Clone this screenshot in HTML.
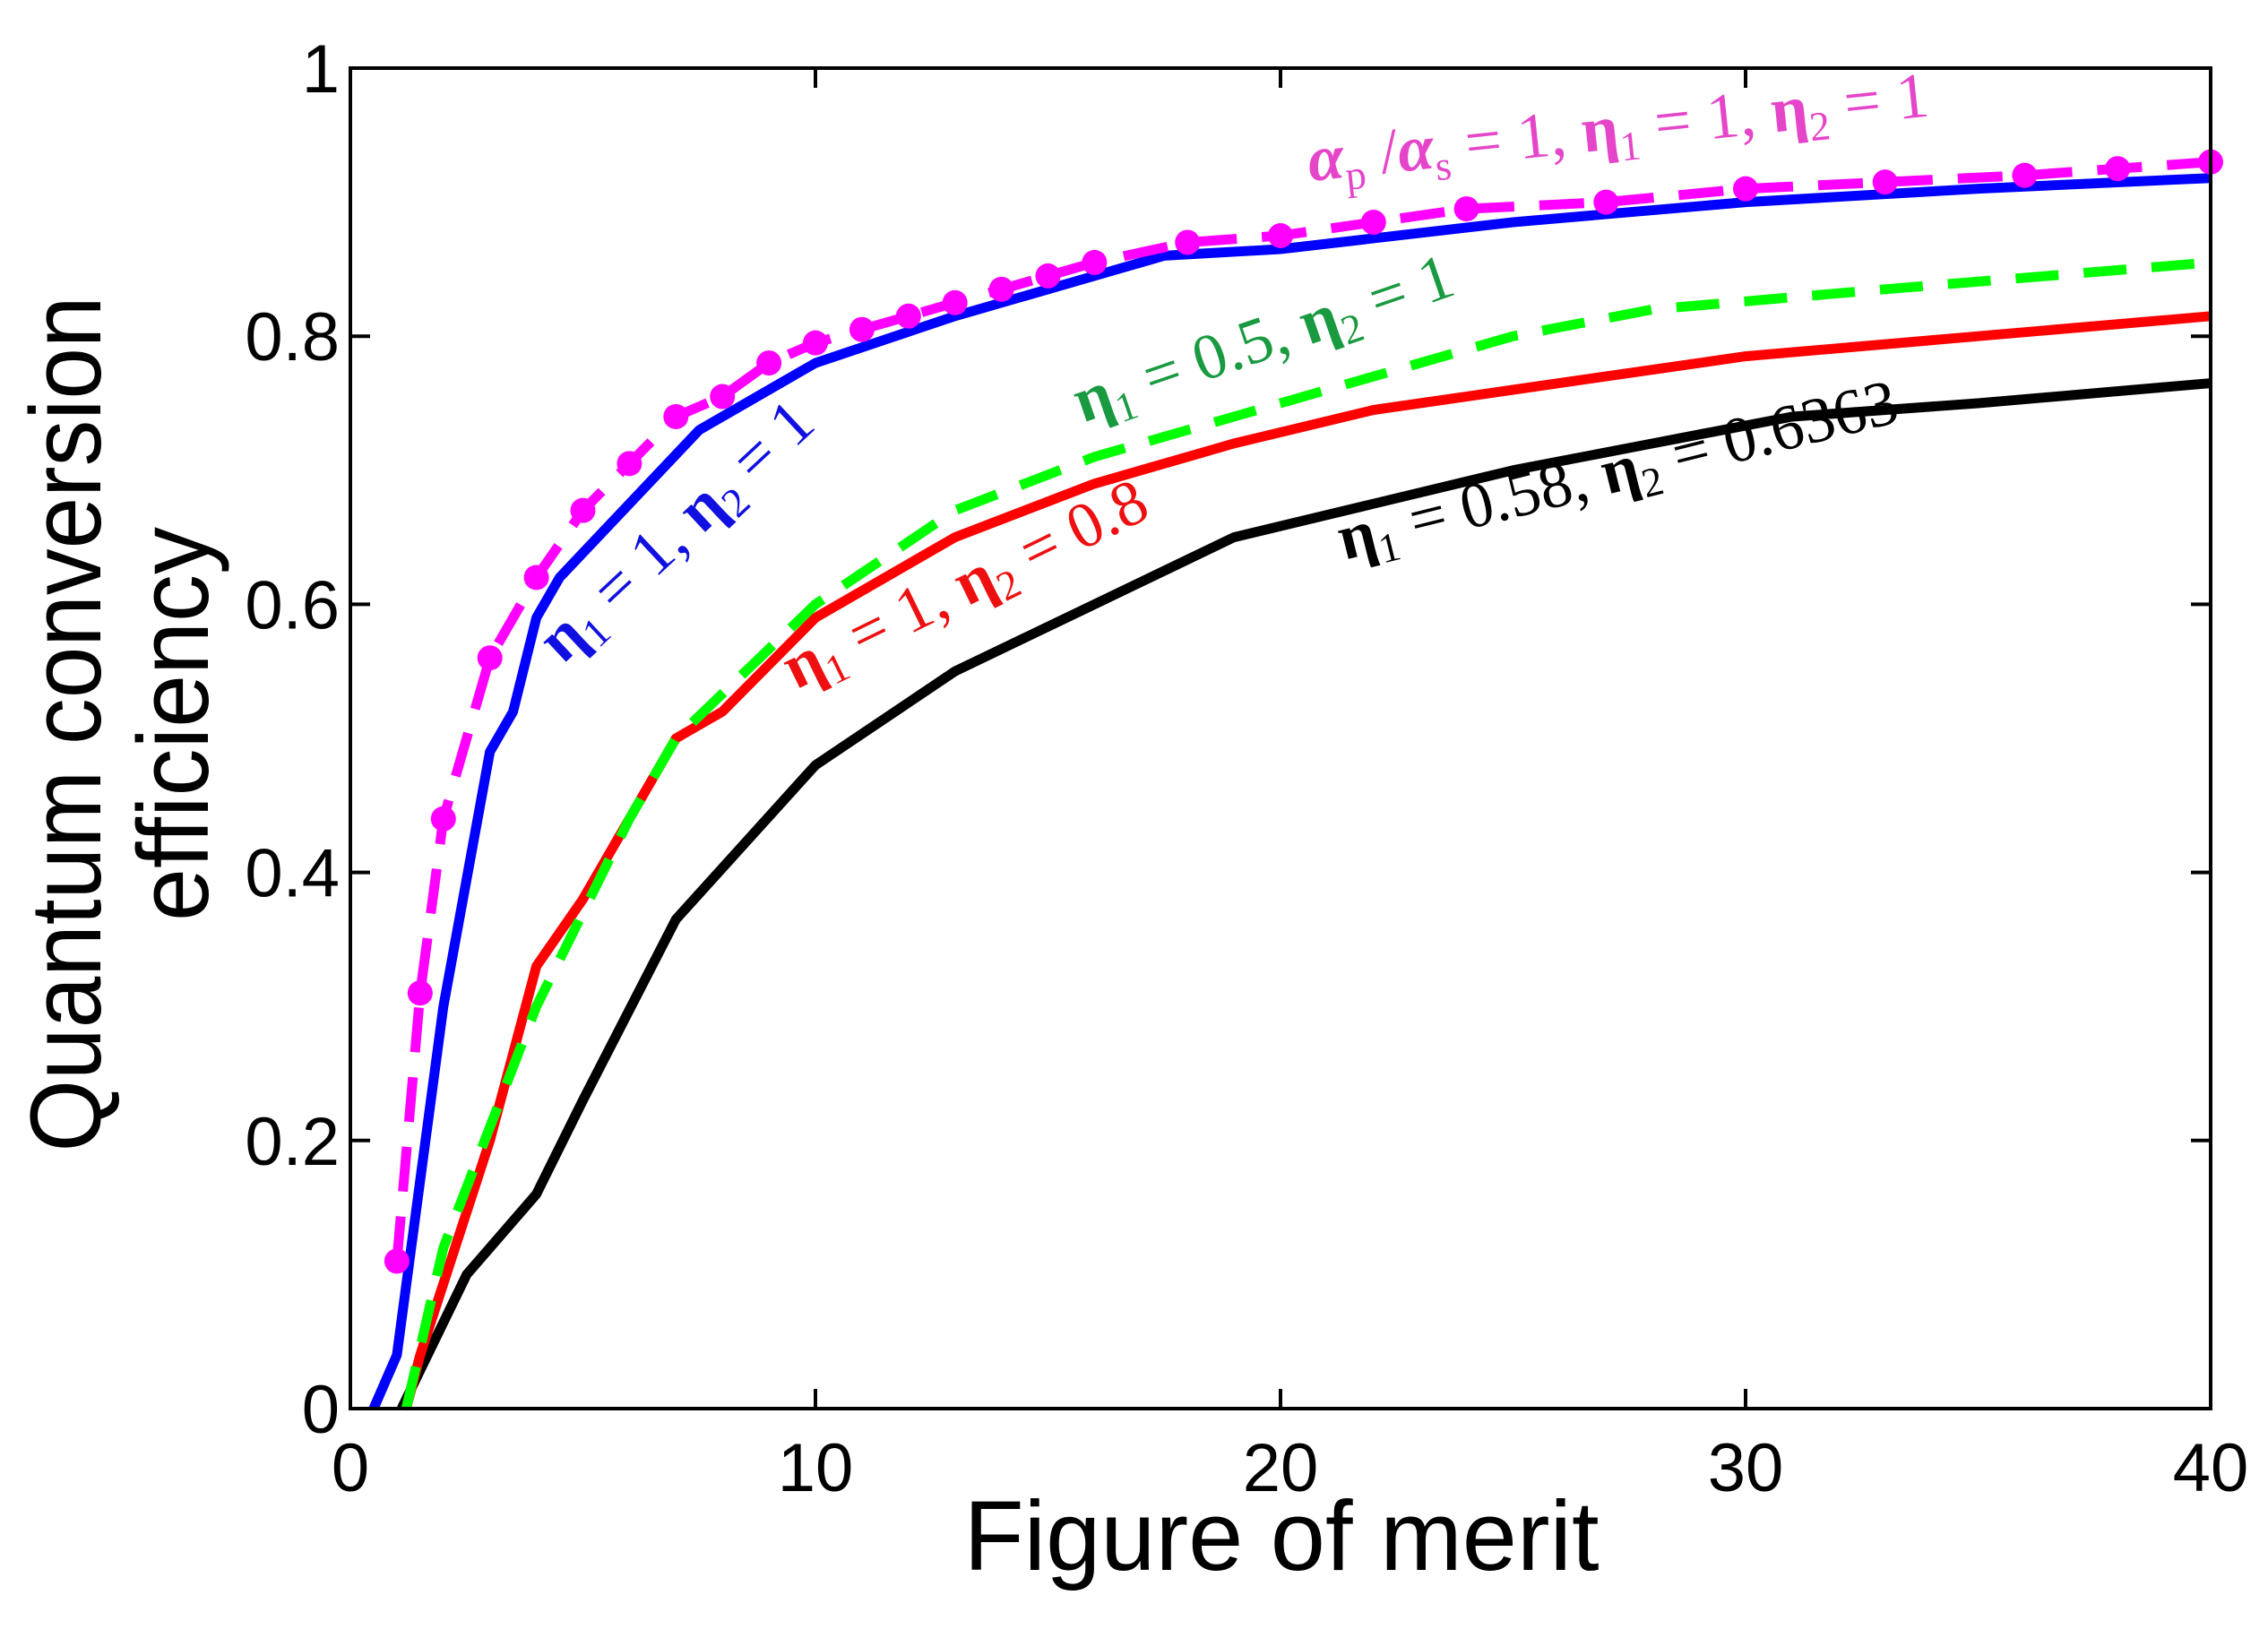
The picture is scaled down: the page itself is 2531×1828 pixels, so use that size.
<!DOCTYPE html>
<html><head><meta charset="utf-8"><style>
html,body{margin:0;padding:0;background:#fff;}
svg{display:block;}
</style></head><body>
<svg id="chart" width="2531" height="1828" viewBox="0 0 2531 1828" xmlns="http://www.w3.org/2000/svg">
<rect x="0" y="0" width="2531" height="1828" fill="#fff"/>
<g id="series"></g>
<g id="axes"></g>
<g font-family="'Liberation Serif', serif" font-size="72">
  <text fill="#e545c8" transform="translate(1462,202) rotate(-6)"><tspan font-weight="bold" font-style="italic">α</tspan><tspan font-size="46" dy="14">p</tspan><tspan dy="-14"> /</tspan><tspan font-weight="bold" font-style="italic">α</tspan><tspan font-size="46" dy="14">s</tspan><tspan dy="-14"> = 1, </tspan><tspan font-weight="bold">η</tspan><tspan font-size="46" dy="14">1</tspan><tspan dy="-14"> = 1, </tspan><tspan font-weight="bold">η</tspan><tspan font-size="46" dy="14">2</tspan><tspan dy="-14"> = 1</tspan></text>
  <text fill="#1010e0" transform="translate(628,742) rotate(-43)"><tspan font-weight="bold">η</tspan><tspan font-size="46" dy="14">1</tspan><tspan dy="-14"> = 1, </tspan><tspan font-weight="bold">η</tspan><tspan font-size="46" dy="14">2</tspan><tspan dy="-14"> = 1</tspan></text>
  <text fill="#1a9a40" transform="translate(1208,472) rotate(-19)"><tspan font-weight="bold">η</tspan><tspan font-size="46" dy="14">1</tspan><tspan dy="-14"> = 0.5, </tspan><tspan font-weight="bold">η</tspan><tspan font-size="46" dy="14">2</tspan><tspan dy="-14"> = 1</tspan></text>
  <text fill="#ee1010" transform="translate(888,770) rotate(-26)"><tspan font-weight="bold">η</tspan><tspan font-size="46" dy="14">1</tspan><tspan dy="-14"> = 1, </tspan><tspan font-weight="bold">η</tspan><tspan font-size="46" dy="14">2</tspan><tspan dy="-14"> = 0.8</tspan></text>
  <text fill="#000" transform="translate(1500,625) rotate(-14)"><tspan font-weight="bold">η</tspan><tspan font-size="46" dy="14">1</tspan><tspan dy="-14"> = 0.58, </tspan><tspan font-weight="bold">η</tspan><tspan font-size="46" dy="14">2</tspan><tspan dy="-14"> = 0.6363</tspan></text>
</g>
<text x="1430" y="1752" text-anchor="middle" font-family="'Liberation Sans', sans-serif" font-size="110">Figure of merit</text>
<g font-family="'Liberation Sans', sans-serif" font-size="112" text-anchor="middle">
  <text transform="translate(112,808) rotate(-90)" textLength="955" lengthAdjust="spacingAndGlyphs">Quantum conversion</text>
  <text transform="translate(232,808) rotate(-90)" textLength="440" lengthAdjust="spacingAndGlyphs">efficiency</text>
</g>
</svg>
<script>
const xTicks = [0,10,20,30,40];
const yTicks = [0,0.2,0.4,0.6,0.8,1];
const yTickLabels = ["0","0.2","0.4","0.6","0.8","1"];
const magentaX = [1,1.5,2,3,4,5,6,7,8,9,10,11,12,13,14,15,16,18,20,22,24,27,30,33,36,38,40];
const magentaY = [0.11,0.31,0.44,0.56,0.62,0.67,0.705,0.74,0.755,0.78,0.795,0.805,0.815,0.825,0.835,0.845,0.855,0.87,0.875,0.885,0.895,0.9,0.91,0.915,0.92,0.925,0.93];
const blueX = [0.5,1,2,3,3.5,4,4.5,7.5,10,13,17.5,20,25,30,35,40];
const blueY = [0,0.04,0.3,0.49,0.52,0.59,0.62,0.73,0.78,0.815,0.86,0.865,0.885,0.9,0.91,0.918];
const redX = [1.2,1.5,3,4,5,7,8,10,13,16,19,22,25,30,35,40];
const redY = [0,0.04,0.2,0.33,0.38,0.5,0.52,0.59,0.65,0.69,0.72,0.745,0.76,0.785,0.8,0.815];
const greenX = [1.2,2,4,6,7,8.5,10,13,16,20,25,28,33,40];
const greenY = [0,0.12,0.3,0.44,0.5,0.55,0.6,0.67,0.71,0.75,0.8,0.82,0.835,0.855];
const blackX = [1.1,2.5,4,5,7,10,13,16,19,22,25,28,31,35,40];
const blackY = [0,0.1,0.16,0.23,0.365,0.48,0.55,0.6,0.65,0.675,0.7,0.72,0.74,0.75,0.765];

const L=391,R=2467,T=76,B=1572;
const sx=v=>L+(R-L)*v/40;
const sy=v=>B-(B-T)*v;
const NS="http://www.w3.org/2000/svg";
const series=document.getElementById('series');
const axes=document.getElementById('axes');
function mk(tag,attrs,parent){const e=document.createElementNS(NS,tag);for(const k in attrs)e.setAttribute(k,attrs[k]);parent.appendChild(e);return e;}
function line(xs,ys,color,dash,name){
  const d=xs.map((x,i)=>(i?'L':'M')+sx(x).toFixed(1)+','+sy(ys[i]).toFixed(1)).join(' ');
  const p=mk('path',{d:d,fill:'none',stroke:color,'stroke-width':11,'stroke-linejoin':'round'},series);
  if(dash)p.setAttribute('stroke-dasharray',dash);
  
  
}
line(blackX,blackY,'#000',null,'series-black');
line(redX,redY,'#ff0000',null,'series-red');
line(greenX,greenY,'#00ff00','48,28','series-green');
line(blueX,blueY,'#0000ff',null,'series-blue');
line(magentaX,magentaY,'#ff00ff','50,28','series-magenta');
magentaX.forEach((x,i)=>{
  const c=mk('circle',{cx:sx(x),cy:sy(magentaY[i]),r:14,fill:'#ff00ff'},series);
  
  
});
const fr=mk('rect',{x:L,y:T,width:R-L,height:B-T,fill:'none',stroke:'#000','stroke-width':4},axes);


xTicks.forEach(v=>{
  const x=sx(v);
  mk('line',{x1:x,y1:B,x2:x,y2:B-22,stroke:'#000','stroke-width':4},axes);
  mk('line',{x1:x,y1:T,x2:x,y2:T+22,stroke:'#000','stroke-width':4},axes);
  const t=mk('text',{x:x,y:B+92,'text-anchor':'middle','font-family':"'Liberation Sans', sans-serif",'font-size':76},axes);
  t.textContent=String(v);
  
  
});
yTicks.forEach((v,i)=>{
  const y=sy(v);
  mk('line',{x1:L,y1:y,x2:L+22,y2:y,stroke:'#000','stroke-width':4},axes);
  mk('line',{x1:R,y1:y,x2:R-22,y2:y,stroke:'#000','stroke-width':4},axes);
  const t=mk('text',{x:L-12,y:y+27,'text-anchor':'end','font-family':"'Liberation Sans', sans-serif",'font-size':76},axes);
  t.textContent=yTickLabels[i];
  
  
});
</script>
</body></html>
